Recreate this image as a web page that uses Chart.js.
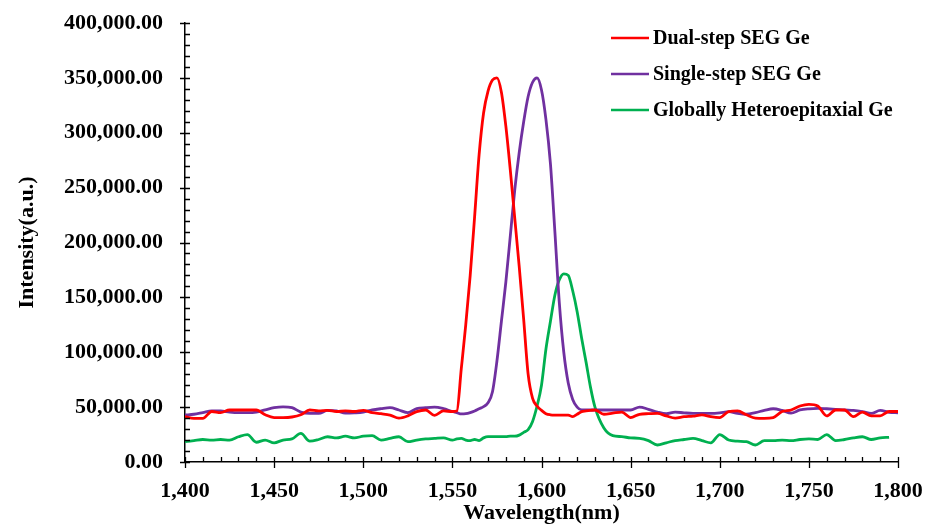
<!DOCTYPE html>
<html>
<head>
<meta charset="utf-8">
<title>PL Spectra</title>
<script src="https://cdn.jsdelivr.net/npm/chart.js@4.4.1/dist/chart.umd.min.js"></script>
<style>
    html, body { margin:0; padding:0; background:#fff; }
    #plChart { display:block; }
</style>
</head>
<body>
<canvas id="plChart" width="929" height="527"></canvas>
<script>
// === DATA ===
const wavelengths = [
    1400,1405,1410,1415,1420,1425,1430,1435,1440,1445,1450,1455,1460,1465,1470,
    1475,1480,1485,1490,1495,1500,1505,1510,1515,1520,1525,1530,1535,1540,1545,
    1550,1552.5,1555,1557.5,1560,1562.5,1565,1567.5,1570,1572.5,1575,1577.5,1580,1582.5,1585,
    1587.5,1590,1592.5,1595,1597.5,1600,1602.5,1605,1607.5,1610,1612.5,1615,1617.5,1620,1622.5,
    1625,1627.5,1630,
    1635,1640,1645,1650,1655,1660,1665,1670,1675,1680,1685,1690,1695,1700,1705,
    1710,1715,1720,1725,1730,1735,1740,1745,1750,1755,1760,1765,1770,1775,1780,
    1785,1790,1795,1800
];

const dualStep = [
    41300,39800,39800,46000,45000,47400,47400,47400,47400,43000,40500,40500,41000,43000,47400,
    46500,47000,46000,46500,46000,47000,45000,44000,42800,40000,42000,45900,47400,42500,46500,
    46000,46500,85000,125000,170000,224000,280000,318000,338000,348000,350000,337000,306000,266000,222000,
    178000,130000,80000,58000,51000,47000,44000,43000,42800,42800,42800,42800,41300,43500,45900,
    46500,47000,47400,
    43500,44500,45500,40500,43500,44000,44300,42000,40000,41300,41800,43000,41300,40500,46000,
    46500,43000,40000,39800,40500,46000,47400,51000,52500,51000,42000,47400,47400,41300,45500,
    42000,42000,46000,46000
];

const singleStep = [
    42800,43500,45000,46500,46500,45500,45000,45000,45500,47500,49500,50300,49500,45500,44300,
    44300,47000,46500,44500,44800,45500,47400,48600,49500,47400,45000,48600,49500,50000,48600,
    46000,45000,43800,44000,45000,46500,48500,50500,54000,64000,92000,128000,164000,206000,248000,
    282000,310000,333000,346000,350000,339000,312000,272000,210000,145000,100000,72000,57000,50000,47500,
    47500,47400,47400,
    47400,47400,47400,47400,50000,48000,45500,44000,45500,44800,44300,44300,44300,44800,45900,
    44300,43500,45000,47000,48500,47000,44500,47400,48500,48900,48500,48000,47400,47000,45900,
    44300,47000,45300,44800
];

const globalHetero = [
    18500,19500,20500,20000,20500,20000,23000,25000,18000,20000,17500,20000,21000,26000,19000,
    20500,23000,22000,23500,22000,23500,24000,20000,21500,23000,18500,20000,21000,21500,22000,
    20000,21000,21500,20000,19500,20500,19500,22000,23100,23100,23100,23100,23100,23500,23500,
    24500,27000,29500,37000,51000,70000,103000,128000,152000,166000,171500,170000,156000,137000,113000,
    91000,68000,50000,
    31000,24000,23100,22000,21600,19500,15500,17500,19500,20500,21500,19500,17500,25000,20000,
    19000,18500,15500,19500,19500,20000,19500,20500,21000,20500,25000,19500,20500,22000,23000,
    20500,22000,22500,null
];

const seriesNames = ['Dual-step SEG Ge', 'Single-step SEG Ge', 'Globally Heteroepitaxial Ge'];
const seriesColors = ['#ff0000', '#7030a0', '#00b050'];

const xTicks = [1400,1450,1500,1550,1600,1650,1700,1750,1800];
const yTicks = [0,50000,100000,150000,200000,250000,300000,350000,400000];

// === FONTS ===
const SERIF = "'Times New Roman', 'Liberation Serif', serif";

function toPoints(values){
    return wavelengths.map((w,i)=>({x:w, y:values[i]}));
}

// fixed axis box sizes; labels may overflow into the layout padding
function fitX(s){
    s.height = 65;
    s.paddingLeft = 0; s.paddingRight = 0;
}
function fitY(s){
    s.width = 185;
    s.paddingTop = 0; s.paddingBottom = 0;
}

// === MINOR / MAJOR TICK MARKS (cross the axes like the original plot) ===
const tickMarks = {
    id:'tickMarks',
    afterDraw(chart){
        const ctx = chart.ctx;
        const xs = chart.scales.x, ys = chart.scales.y;
        const ax = xs.left, ay = ys.bottom;
        ctx.save();
        ctx.strokeStyle = '#000';
        ctx.lineWidth = 1.3;
        ctx.beginPath();
        // y axis: minor every 10,000, major every 50,000
        for(let v=0; v<=400000; v+=10000){
            const y = Math.round(ys.getPixelForValue(v))+0.5;
            const major = v % 50000 === 0;
            ctx.moveTo(major ? ax-5 : ax, y);
            ctx.lineTo(ax+5, y);
        }
        // x axis: minor every 10 nm, major every 50 nm
        for(let w=1400; w<=1800; w+=10){
            const x = Math.round(xs.getPixelForValue(w))+0.5;
            const major = w % 50 === 0;
            ctx.moveTo(x, ay-5);
            ctx.lineTo(x, major ? ay+6 : ay);
        }
        ctx.stroke();
        ctx.restore();
    }
};

// === LEGEND (top right, over the plot) ===
const cornerLegend = {
    id:'cornerLegend',
    afterDraw(chart){
        const ctx = chart.ctx;
        ctx.save();
        ctx.font = `bold 20px ${SERIF}`;
        ctx.textBaseline = 'middle';
        ctx.textAlign = 'left';
        chart.data.datasets.forEach((ds,i)=>{
            const y = 38 + i*36;
            ctx.strokeStyle = ds.borderColor;
            ctx.lineWidth = 2.5;
            ctx.beginPath();
            ctx.moveTo(611, y);
            ctx.lineTo(649, y);
            ctx.stroke();
            ctx.fillStyle = '#000';
            ctx.fillText(ds.label, 653, y+1);
        });
        ctx.restore();
    }
};

// === CHART ===
const ctx = document.getElementById('plChart').getContext('2d');
const plChart = new Chart(ctx, {
    type:'line',
    data:{
        datasets:[dualStep, singleStep, globalHetero].map((vals,i)=>({
            label:seriesNames[i],
            data:toPoints(vals),
            borderColor:seriesColors[i],
            backgroundColor:seriesColors[i],
            borderWidth:2.8,
            pointRadius:0,
            cubicInterpolationMode:'monotone',
            fill:false
        }))
    },
    options:{
        responsive:false,
        animation:false,
        devicePixelRatio:1,
        layout:{padding:{top:23, right:31, bottom:0, left:0}},
        plugins:{legend:{display:false}, tooltip:{enabled:false}},
        scales:{
            x:{
                type:'linear', min:1400, max:1800,
                afterFit: fitX,
                afterBuildTicks: s => { s.ticks = xTicks.map(v=>({value:v})); },
                grid:{display:false, drawTicks:false, tickLength:0},
                border:{display:true, color:'#000', width:1.5},
                ticks:{
                    padding:16, color:'#000', maxRotation:0,
                    font:{family:SERIF, size:22, weight:'bold'},
                    callback: v => v.toLocaleString('en-US')
                },
                title:{
                    display:true, text:'Wavelength(nm)', color:'#000',
                    font:{family:SERIF, size:22, weight:'bold'},
                    padding:{top:0, bottom:0}
                }
            },
            y:{
                type:'linear', min:0, max:400000,
                afterFit: fitY,
                afterBuildTicks: s => { s.ticks = yTicks.map(v=>({value:v})); },
                grid:{display:false, drawTicks:false, tickLength:0},
                border:{display:true, color:'#000', width:1.5},
                ticks:{
                    padding:22, color:'#000',
                    font:{family:SERIF, size:22, weight:'bold'},
                    callback: v => v.toLocaleString('en-US', {minimumFractionDigits:2, maximumFractionDigits:2})
                },
                title:{
                    display:true, text:'Intensity(a.u.)', color:'#000',
                    font:{family:SERIF, size:22, weight:'bold'},
                    padding:{top:14, bottom:0}
                }
            }
        }
    },
    plugins:[tickMarks, cornerLegend]
});
</script>
</body>
</html>
